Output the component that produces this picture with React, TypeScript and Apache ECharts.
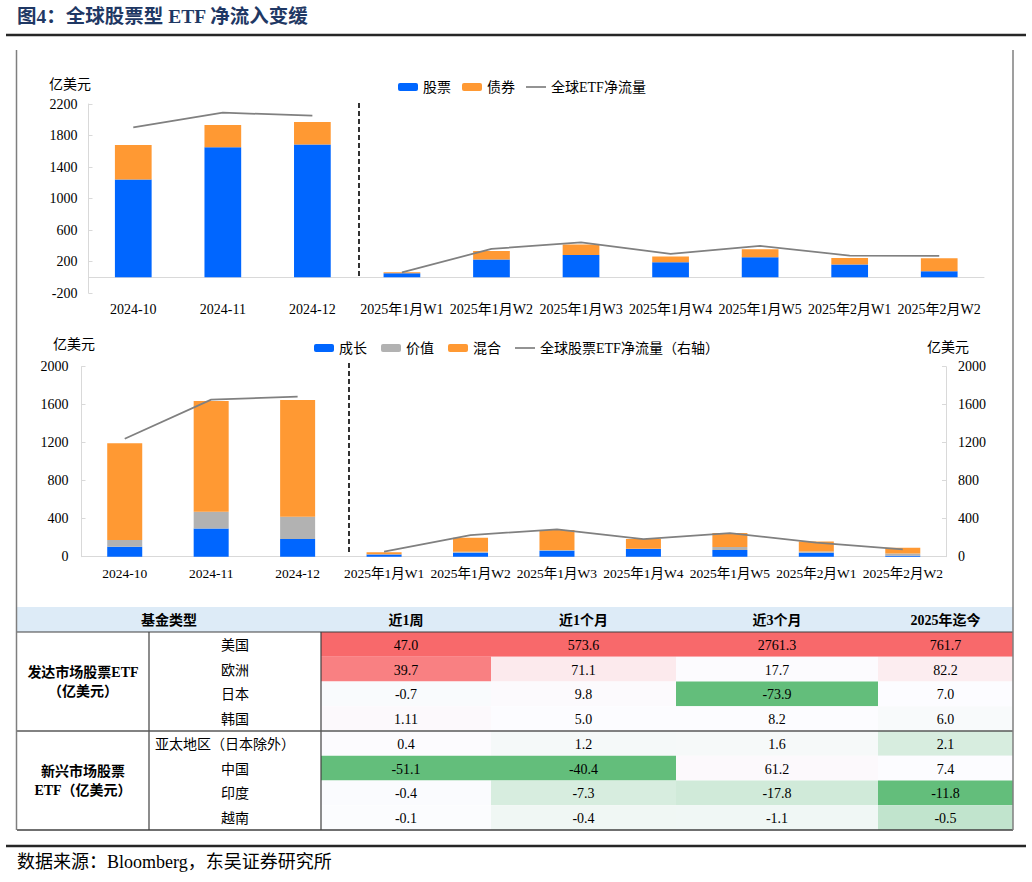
import React, { useEffect, useRef } from "react";
import * as echarts from "echarts";

const FONT = "'Liberation Serif','Times New Roman','Noto Sans CJK SC',serif";

// ---------- chart data ----------
const periods = [
  "2024-10", "2024-11", "2024-12",
  "2025年1月W1", "2025年1月W2", "2025年1月W3", "2025年1月W4", "2025年1月W5",
  "2025年2月W1", "2025年2月W2",
];
// top chart (亿美元)
const stockFlow = [1240, 1652, 1686, 50, 226, 282, 190, 254, 161, 76];
const bondFlow = [440, 280, 285, 12, 108, 133, 73, 101, 84, 165];
const globalEtfFlow = [1902, 2090, 2052, 62, 360, 444, 296, 397, 275, 270];
// bottom chart (亿美元)
const growthFlow = [105, 298, 186, 22, 42, 63, 81, 70, 42, 10];
const valueFlow = [70, 176, 235, 3, 11, 7, 3, 32, 14, 25];
const mixedFlow = [1018, 1165, 1228, 21, 147, 211, 102, 147, 105, 60];
const globalEquityFlow = [1242, 1653, 1684, 53, 228, 288, 186, 249, 147, 77];
const monthlyCount = 3;

const topTicks = { min: -200, max: 2200, interval: 400 };
const bottomTicks = { min: 0, max: 2000, interval: 400 };

// ---------- table data ----------
const tableHeaders = ["近1周", "近1个月", "近3个月", "2025年迄今"];
const regionNames = ["美国", "欧洲", "日本", "韩国", "亚太地区（日本除外）", "中国", "印度", "越南"];
const groupLabels = [
  ["发达市场股票ETF", "（亿美元）"],
  ["新兴市场股票", "ETF（亿美元）"],
];
const week1 = ["47.0", "39.7", "-0.7", "1.11", "0.4", "-51.1", "-0.4", "-0.1"];
const month1 = ["573.6", "71.1", "9.8", "5.0", "1.2", "-40.4", "-7.3", "-0.4"];
const month3 = ["2761.3", "17.7", "-73.9", "8.2", "1.6", "61.2", "-17.8", "-1.1"];
const ytd = ["761.7", "82.2", "7.0", "6.0", "2.1", "7.4", "-11.8", "-0.5"];
const tableColumnsData = [week1, month1, month3, ytd];

// ---------- helpers ----------
const seg = (arr: number[], from: number, to: number) =>
  arr.map((v, i) => (i >= from && i < to ? v : "-"));

const hex = (c: string) => [1, 3, 5].map((i) => parseInt(c.slice(i, i + 2), 16));
const mix = (a: string, b: string, t: number) => {
  const A = hex(a), B = hex(b);
  const r = A.map((v, i) => Math.round(v + (B[i] - v) * t));
  return `rgb(${r[0]},${r[1]},${r[2]})`;
};
// Excel-style 3-colour scale (min green, 50th percentile white, max red)
const scaleColor = (v: number, col: number[]) => {
  const s = [...col].sort((a, b) => a - b);
  const min = s[0], max = s[s.length - 1];
  const pos = (s.length - 1) * 0.5;
  const lo = Math.floor(pos);
  const mid = s[lo] + (s[Math.min(lo + 1, s.length - 1)] - s[lo]) * (pos - lo);
  if (v >= mid) return mix("#FCFCFF", "#F8696B", max === mid ? 0 : (v - mid) / (max - mid));
  return mix("#FCFCFF", "#63BE7B", mid === min ? 0 : (mid - v) / (mid - min));
};

const txt = (text: string, x: number, y: number, opts: any = {}) => ({
  type: "text",
  silent: true,
  style: {
    text, x, y,
    align: opts.align || "center",
    verticalAlign: "middle",
    fill: opts.fill || "#000",
    fontSize: opts.fontSize || 14,
    fontWeight: opts.fontWeight || "normal",
    fontFamily: FONT,
  },
});
const ln = (x1: number, y1: number, x2: number, y2: number, stroke: string, lineWidth: number, lineDash?: number[]) => ({
  type: "line",
  silent: true,
  shape: { x1, y1, x2, y2 },
  style: { stroke, lineWidth, lineDash },
});

function buildTable() {
  const els: any[] = [];
  const colX = [17, 149, 321, 491, 676, 878, 1013];
  const top = 607, headH = 25, rowH = 24.75;
  const bodyTop = top + headH;
  const bottom = bodyTop + rowH * regionNames.length;
  els.push({ type: "rect", silent: true, shape: { x: colX[0], y: top, width: colX[6] - colX[0], height: headH }, style: { fill: "#DDEBF7" } });
  els.push(txt("基金类型", (colX[0] + colX[2]) / 2, top + headH / 2 + 1, { fontWeight: "bold" }));
  tableHeaders.forEach((h, c) => {
    els.push(txt(h, (colX[c + 2] + colX[c + 3]) / 2, top + headH / 2 + 1, { fontWeight: "bold" }));
  });
  const numeric = tableColumnsData.map((col) => col.map((v) => parseFloat(v)));
  tableColumnsData.forEach((col, c) => {
    col.forEach((v, r) => {
      const x = colX[c + 2], w = colX[c + 3] - x, y = bodyTop + r * rowH;
      els.push({ type: "rect", silent: true, shape: { x, y, width: w, height: rowH }, style: { fill: scaleColor(numeric[c][r], numeric[c]) } });
      els.push(txt(v, x + w / 2, y + rowH / 2 + 1));
    });
  });
  regionNames.forEach((n, r) => {
    els.push(txt(n, (colX[1] + colX[2]) / 2 - (n.length > 4 ? 10 : 0), bodyTop + r * rowH + rowH / 2 + 1));
  });
  const gcx = (colX[0] + colX[1]) / 2;
  groupLabels.forEach((g, i) => {
    const cy = bodyTop + (i * 4 + 2) * rowH;
    els.push(txt(g[0], gcx, cy - 9, { fontWeight: "bold" }));
    els.push(txt(g[1], gcx, cy + 10, { fontWeight: "bold" }));
  });
  els.push(ln(colX[0], bodyTop, colX[6], bodyTop, "#404040", 1.2));
  els.push(ln(colX[1], bodyTop, colX[1], bottom, "#404040", 1.2));
  els.push(ln(colX[2], bodyTop, colX[2], bottom, "#404040", 1.2));
  els.push(ln(colX[0], bodyTop + rowH * 4, colX[6], bodyTop + rowH * 4, "#595959", 1.5));
  els.push(ln(colX[0], bottom, colX[6], bottom, "#404040", 1.5));
  els.push(ln(16.5, 50, 16.5, bottom, "#7f7f7f", 1.5));
  els.push(ln(colX[6], 50, colX[6], bottom, "#7f7f7f", 1.5));
  return els;
}

const LINE_ICON = "path://M0,0H40V3.4H0Z";

export default function App() {
  const ref = useRef<HTMLDivElement>(null);
  useEffect(() => {
    if (!ref.current) return;
    const chart = echarts.init(ref.current, null, { renderer: "svg" });
    const axisLabel = { color: "#000", fontSize: 14, fontFamily: FONT, formatter: (v: any) => String(v) };
    const lineAxis = { show: true, lineStyle: { color: "#d9d9d9", width: 1 } };
    const yTick = { show: true, inside: true, length: 4, lineStyle: { color: "#d9d9d9" } };
    const legendText = { color: "#000", fontSize: 14, fontFamily: FONT };
    const BLUE = "#0066FF", ORANGE = "#FF9933", GRAY = "#B2B2B2", LINE = "#808080";

    const option: any = {
      animation: false,
      backgroundColor: "#fff",
      textStyle: { fontFamily: FONT },
      grid: [
        { left: 88.5, top: 104, width: 895.5, height: 189 },
        { left: 81.5, top: 366.7, width: 864.5, height: 190 },
      ],
      legend: [
        {
          data: ["股票", "债券", { name: "全球ETF净流量", icon: LINE_ICON }],
          left: 393, top: 75, itemWidth: 20, itemHeight: 8, itemGap: 11,
          textStyle: legendText,
        },
        {
          data: ["成长", "价值", "混合", { name: "全球股票ETF净流量（右轴）", icon: LINE_ICON }],
          left: 309, top: 336, itemWidth: 20, itemHeight: 8, itemGap: 14,
          textStyle: legendText,
        },
      ],
      xAxis: [
        {
          type: "category", gridIndex: 0, data: periods,
          axisLine: { ...lineAxis, onZero: true }, axisTick: { show: false },
          axisLabel: { color: "#000", fontSize: 14, fontFamily: FONT, interval: 0, margin: 9 },
        },
        {
          type: "category", gridIndex: 1, data: periods,
          axisLine: lineAxis, axisTick: { show: false },
          axisLabel: { color: "#000", fontSize: 13.5, fontFamily: FONT, interval: 0, margin: 10 },
        },
      ],
      yAxis: [
        {
          type: "value", gridIndex: 0, ...topTicks,
          splitLine: { show: false }, axisLine: lineAxis, axisTick: yTick,
          axisLabel: { ...axisLabel, margin: 11 },
        },
        {
          type: "value", gridIndex: 1, position: "left", ...bottomTicks,
          splitLine: { show: false }, axisLine: lineAxis, axisTick: yTick,
          axisLabel: { ...axisLabel, margin: 13 },
        },
        {
          type: "value", gridIndex: 1, position: "right", ...bottomTicks,
          splitLine: { show: false }, axisLine: lineAxis, axisTick: yTick,
          axisLabel: { ...axisLabel, margin: 12 },
        },
      ],
      series: [
        { name: "股票", type: "bar", stack: "top", xAxisIndex: 0, yAxisIndex: 0, data: stockFlow, barWidth: "41%", itemStyle: { color: BLUE } },
        { name: "债券", type: "bar", stack: "top", xAxisIndex: 0, yAxisIndex: 0, data: bondFlow, barWidth: "41%", itemStyle: { color: ORANGE } },
        { name: "全球ETF净流量", type: "line", xAxisIndex: 0, yAxisIndex: 0, data: seg(globalEtfFlow, 0, monthlyCount), symbol: "none", lineStyle: { color: LINE, width: 1.75 }, itemStyle: { color: LINE } },
        { name: "全球ETF净流量", type: "line", xAxisIndex: 0, yAxisIndex: 0, data: seg(globalEtfFlow, monthlyCount, periods.length), symbol: "none", lineStyle: { color: LINE, width: 1.75 }, itemStyle: { color: LINE } },
        { name: "成长", type: "bar", stack: "bottom", xAxisIndex: 1, yAxisIndex: 1, data: growthFlow, barWidth: "40.5%", itemStyle: { color: BLUE } },
        { name: "价值", type: "bar", stack: "bottom", xAxisIndex: 1, yAxisIndex: 1, data: valueFlow, barWidth: "40.5%", itemStyle: { color: GRAY } },
        { name: "混合", type: "bar", stack: "bottom", xAxisIndex: 1, yAxisIndex: 1, data: mixedFlow, barWidth: "40.5%", itemStyle: { color: ORANGE } },
        { name: "全球股票ETF净流量（右轴）", type: "line", xAxisIndex: 1, yAxisIndex: 2, data: seg(globalEquityFlow, 0, monthlyCount), symbol: "none", lineStyle: { color: LINE, width: 1.75 }, itemStyle: { color: LINE } },
        { name: "全球股票ETF净流量（右轴）", type: "line", xAxisIndex: 1, yAxisIndex: 2, data: seg(globalEquityFlow, monthlyCount, periods.length), symbol: "none", lineStyle: { color: LINE, width: 1.75 }, itemStyle: { color: LINE } },
      ],
      graphic: [
        txt("图4：全球股票型 ETF 净流入变缓", 17, 16, { align: "left", fontSize: 19.5, fontWeight: "bold", fill: "#1F3864" }),
        ln(6, 35, 1026, 35, "#262626", 2.5),
        txt("亿美元", 49, 84, { align: "left" }),
        txt("亿美元", 53, 344, { align: "left" }),
        txt("亿美元", 927, 347, { align: "left" }),
        ln(359, 103, 359, 278, "#000", 1.6, [5, 3]),
        ln(349, 363, 349, 554, "#000", 1.6, [5, 3]),
        ...buildTable(),
        ln(6, 846, 1026, 846, "#262626", 2.5),
        txt("数据来源：Bloomberg，东吴证券研究所", 17, 862, { align: "left", fontSize: 18 }),
      ],
    };
    chart.setOption(option);
    return () => chart.dispose();
  }, []);
  return (
    <div
      ref={ref}
      style={{ position: "absolute", left: 0, top: 0, width: 1032, height: 882, background: "#fff" }}
    />
  );
}
